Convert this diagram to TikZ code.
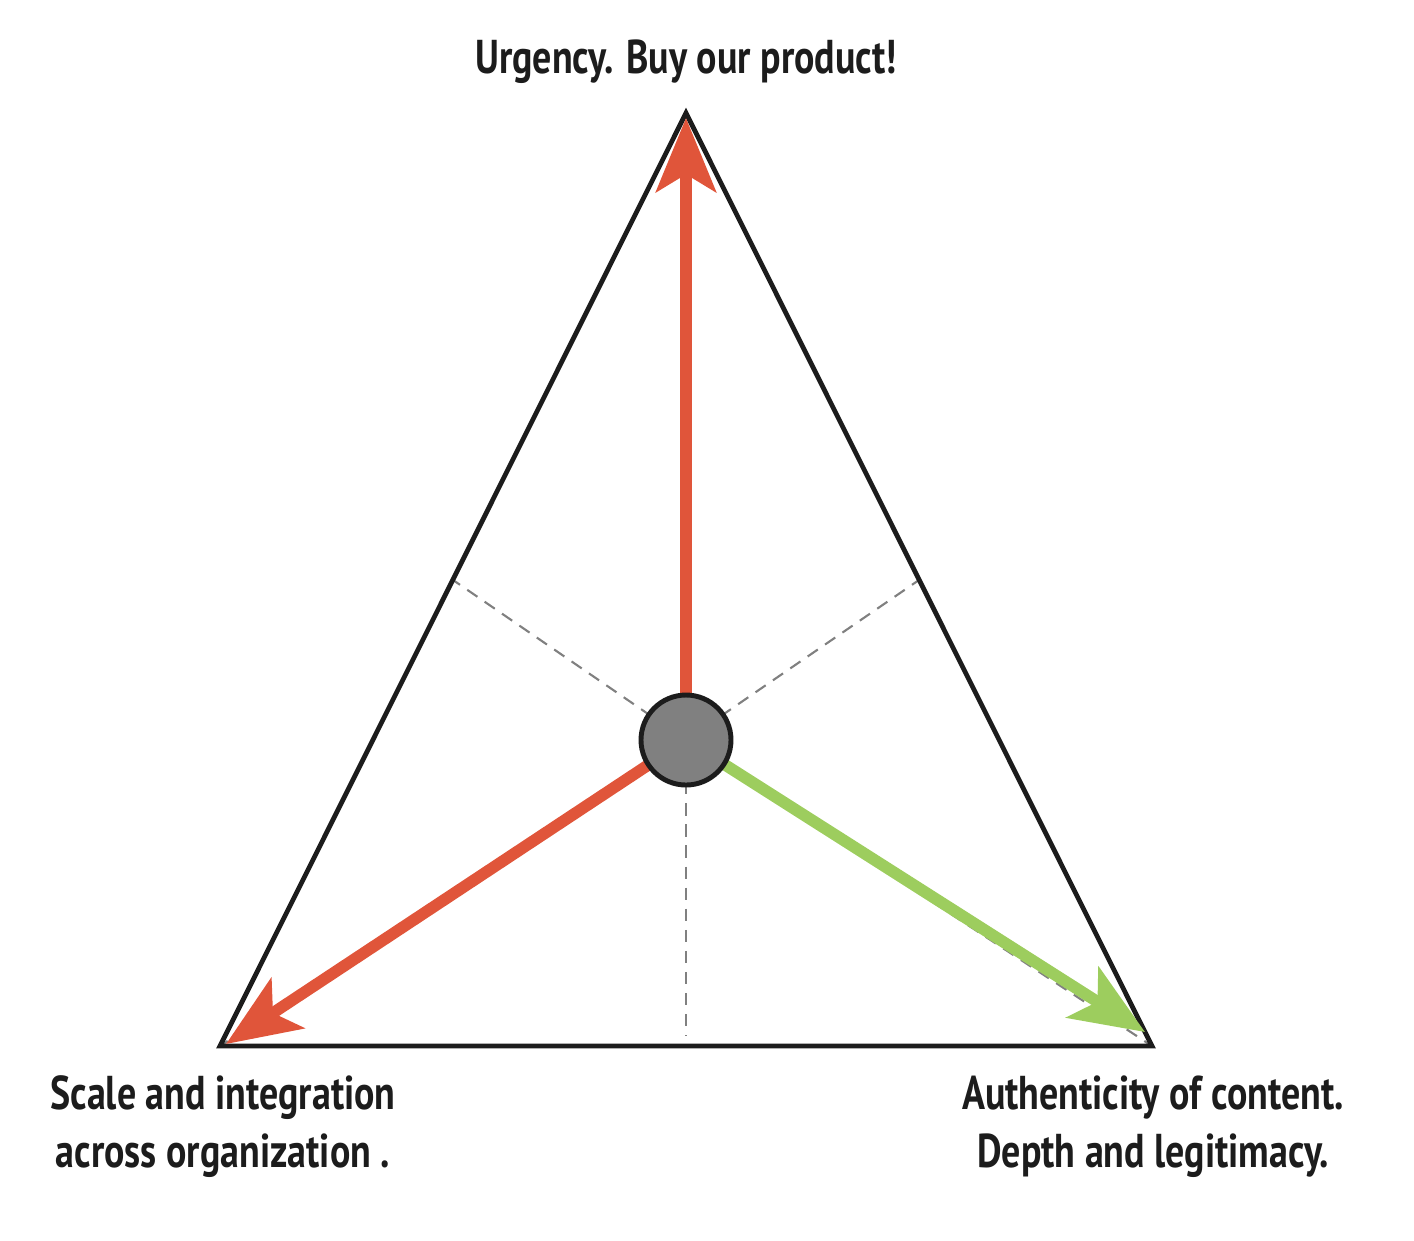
\documentclass[tikz,border=0pt]{standalone}
\usepackage{fontspec}
\newfontfamily\labelfont[FakeStretch=0.8]{PT Sans}
\usetikzlibrary{arrows.meta}
\definecolor{urgred}{RGB}{224,85,58}
\definecolor{authgreen}{RGB}{157,205,94}
\definecolor{hubgray}{RGB}{128,128,128}
\definecolor{edgeblack}{RGB}{28,28,28}
\tikzset{
  axislabel/.style={font=\labelfont\bfseries\fontsize{13.5}{16.5}\selectfont, text=edgeblack, align=center, inner sep=0pt},
  guide/.style={draw=hubgray, line width=0.6pt, dash pattern=on 3.5pt off 2.5pt},
  pull/.style={line width=3.3pt, -{Stealth[length=21pt,width=17pt,inset=5pt]}},
}
\begin{document}
\begin{tikzpicture}
\useasboundingbox (0,0) rectangle (14.14,-12.40);

\coordinate (top) at (6.86,-1.13);
\coordinate (left) at (2.20,-10.46);
\coordinate (right) at (11.52,-10.46);
\coordinate (midl) at (4.53,-5.80);
\coordinate (midr) at (9.19,-5.80);
\coordinate (midb) at (6.86,-10.36);

\coordinate (toptip) at (6.86,-1.18);
\coordinate (lefttip) at (2.26,-10.44);
\coordinate (righttip) at (11.45,-10.32);

\node[circle, fill=hubgray, minimum size=0.9cm, inner sep=0pt](hub) at (6.86,-7.40) {};

\draw[guide] (hub.center) to (midl);
\draw[guide] (hub.center) to (midr);
\draw[guide] (hub.center) to (midb);
\draw[guide] (hub.center) to (left);
\draw[guide] (hub.center) to (right);

\draw[edgeblack, line width=1.35pt, line join=miter] (top) -- (left) -- (right) -- cycle;

\draw[pull, urgred] (hub) to (toptip);
\draw[pull, urgred] (hub) to (lefttip);
\draw[pull, authgreen] (hub) to (righttip);

\node[circle, draw=edgeblack, line width=1.4pt, fill=hubgray, minimum size=0.9cm, inner sep=0pt] at (hub) {};

\node[axislabel](urgency) at (6.86,-0.62) {Urgency. Buy our product!};
\node[axislabel](scale) at (2.23,-11.27) {Scale and integration\\across organization .};
\node[axislabel](authenticity) at (11.53,-11.27) {Authenticity of content.\\Depth and legitimacy.};

\end{tikzpicture}
\end{document}
